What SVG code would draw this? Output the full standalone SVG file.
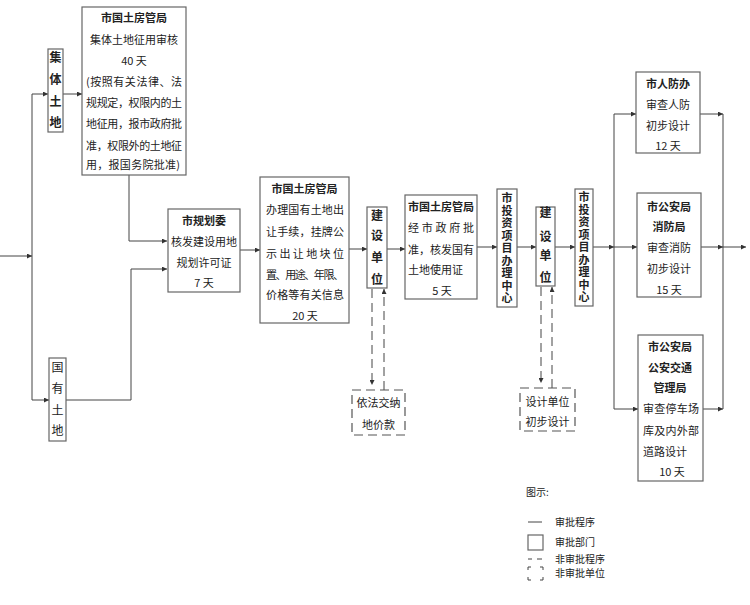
<svg xmlns="http://www.w3.org/2000/svg" width="750" height="605" viewBox="0 0 750 605">
<defs>
<marker id="a" viewBox="0 0 6 6" refX="6" refY="3" markerWidth="5" markerHeight="5" orient="auto"><path d="M0,0L6,3L0,6z" fill="#333"/></marker>
<style>
text{font-family:"Noto Sans CJK SC","Liberation Sans",sans-serif;font-size:11px;fill:#222}
.b{font-weight:bold}
.v{font-size:12px;text-anchor:middle}
.t{font-size:11px;text-anchor:middle;font-weight:bold;writing-mode:vertical-rl;letter-spacing:1.5px}
.m{text-anchor:middle}
.box{fill:#fff;stroke:#666;stroke-width:1.2}
.dbox{fill:#fff;stroke:#555;stroke-width:1.2;stroke-dasharray:9 5}
.ln{fill:none;stroke:#444;stroke-width:1}
.dl{fill:none;stroke:#444;stroke-width:1;stroke-dasharray:9 5}
.lg{font-size:10px}
</style>
</defs>
<rect width="750" height="605" fill="#fff"/>
<g id="connectors">
<path class="ln" d="M0,256H32" marker-end="url(#a)"/>
<path class="ln" d="M32,94V400"/>
<path class="ln" d="M32,94H48" marker-end="url(#a)"/>
<path class="ln" d="M32,400H49" marker-end="url(#a)"/>
<path class="ln" d="M63,94H82" marker-end="url(#a)"/>
<path class="ln" d="M129,175V241H167" marker-end="url(#a)"/>
<path class="ln" d="M66,400H131V269H167" marker-end="url(#a)"/>
<path class="ln" d="M240,250H260" marker-end="url(#a)"/>
<path class="ln" d="M349,249H367" marker-end="url(#a)"/>
<path class="dl" d="M372,289V385" marker-end="url(#a)"/>
<path class="dl" d="M384,390V289" marker-end="url(#a)"/>
<path class="ln" d="M387,249H405" marker-end="url(#a)"/>
<path class="ln" d="M477,247H497" marker-end="url(#a)"/>
<path class="ln" d="M517,247H536" marker-end="url(#a)"/>
<path class="dl" d="M541,287V383" marker-end="url(#a)"/>
<path class="dl" d="M552,388V287" marker-end="url(#a)"/>
<path class="ln" d="M555,247H575" marker-end="url(#a)"/>
<path class="ln" d="M593,247H614" marker-end="url(#a)"/>
<path class="ln" d="M614,114V409"/>
<path class="ln" d="M614,114H636" marker-end="url(#a)"/>
<path class="ln" d="M614,247H637" marker-end="url(#a)"/>
<path class="ln" d="M614,409H638" marker-end="url(#a)"/>
<path class="ln" d="M723,114V409"/>
<path class="ln" d="M700,114H723" marker-end="url(#a)"/>
<path class="ln" d="M701,247H723" marker-end="url(#a)"/>
<path class="ln" d="M703,409H723" marker-end="url(#a)"/>
<path class="ln" d="M723,247H746" marker-end="url(#a)"/>
</g>
<g id="n-jiti">
<rect class="box" x="48" y="49" width="15" height="83"/>
<text class="v b" x="55.5" y="62">集</text>
<text class="v b" x="55.5" y="84">体</text>
<text class="v b" x="55.5" y="106">土</text>
<text class="v b" x="55.5" y="127">地</text>
</g>
<g id="n-guoyou">
<rect class="box" x="49" y="358" width="17" height="83"/>
<text class="v" x="57.5" y="372">国</text>
<text class="v" x="57.5" y="393">有</text>
<text class="v" x="57.5" y="415">土</text>
<text class="v" x="57.5" y="435">地</text>
</g>
<g id="n-box1">
<rect class="box" x="82" y="7" width="104" height="168"/>
<text class="m b" x="134" y="22">市国土房管局</text>
<text class="m" x="134" y="44">集体土地征用审核</text>
<text class="m" x="134" y="65">40 天</text>
<text x="86" y="86" textLength="96" lengthAdjust="spacing">(按照有关法律、法</text>
<text x="86" y="107" textLength="96" lengthAdjust="spacing">规规定，权限内的土</text>
<text x="86" y="128" textLength="96" lengthAdjust="spacing">地征用，报市政府批</text>
<text x="86" y="150" textLength="96" lengthAdjust="spacing">准，权限外的土地征</text>
<text x="86" y="169" textLength="94" lengthAdjust="spacing">用，报国务院批准)</text>
</g>
<g id="n-guihua">
<rect class="box" x="168" y="209" width="72" height="83"/>
<text class="m b" x="204" y="225">市规划委</text>
<text class="m" x="204" y="246">核发建设用地</text>
<text class="m" x="204" y="267">规划许可证</text>
<text class="m" x="204" y="287">7 天</text>
</g>
<g id="n-box3">
<rect class="box" x="260" y="177" width="89" height="146"/>
<text class="m b" x="304.5" y="193">市国土房管局</text>
<text x="266" y="214" textLength="78" lengthAdjust="spacing">办理国有土地出</text>
<text x="266" y="236" textLength="78" lengthAdjust="spacing">让手续，挂牌公</text>
<text x="266" y="258" textLength="78" lengthAdjust="spacing">示出让地块位</text>
<text x="266" y="279" textLength="78" lengthAdjust="spacing">置、用途、年限、</text>
<text x="266" y="299" textLength="78" lengthAdjust="spacing">价格等有关信息</text>
<text class="m" x="305" y="320">20 天</text>
</g>
<g id="n-jianshe1">
<rect class="box" x="367" y="207" width="20" height="81"/>
<text class="v b" x="377" y="220">建</text>
<text class="v b" x="377" y="240">设</text>
<text class="v b" x="377" y="262">单</text>
<text class="v b" x="377" y="284">位</text>
</g>
<g id="n-dijia">
<rect class="dbox" x="352" y="390" width="53" height="45"/>
<text class="m" x="378.5" y="407">依法交纳</text>
<text class="m" x="378.5" y="429">地价款</text>
</g>
<g id="n-box4">
<rect class="box" x="405" y="195" width="72" height="104"/>
<text class="m b" x="441" y="211">市国土房管局</text>
<text x="408" y="232" textLength="66" lengthAdjust="spacing">经市政府批</text>
<text x="408" y="254" textLength="66" lengthAdjust="spacing">准，核发国有</text>
<text x="408" y="274">土地使用证</text>
<text class="m" x="442" y="295">5 天</text>
</g>
<g id="n-touzi1">
<rect class="box" x="497" y="189" width="20" height="118"/>
<text class="t" x="507" y="249">市投资项目办理中心</text>
</g>
<g id="n-jianshe2">
<rect class="box" x="536" y="207" width="19" height="79"/>
<text class="v b" x="545.5" y="217">建</text>
<text class="v b" x="545.5" y="241">设</text>
<text class="v b" x="545.5" y="260">单</text>
<text class="v b" x="545.5" y="282">位</text>
</g>
<g id="n-sheji">
<rect class="dbox" x="520" y="388" width="55" height="43"/>
<text class="m" x="547.5" y="406">设计单位</text>
<text class="m" x="547.5" y="426">初步设计</text>
</g>
<g id="n-touzi2">
<rect class="box" x="575" y="189" width="18" height="117"/>
<text class="t" x="584" y="248">市投资项目办理中心</text>
</g>
<g id="n-renfang">
<rect class="box" x="636" y="72" width="64" height="81"/>
<text class="m b" x="668" y="88">市人防办</text>
<text class="m" x="668" y="109">审查人防</text>
<text class="m" x="668" y="130">初步设计</text>
<text class="m" x="668" y="150">12 天</text>
</g>
<g id="n-xiaofang">
<rect class="box" x="637" y="193" width="64" height="104"/>
<text class="m b" x="669" y="211">市公安局</text>
<text class="m b" x="669" y="231">消防局</text>
<text class="m" x="669" y="252">审查消防</text>
<text class="m" x="669" y="273">初步设计</text>
<text class="m" x="669" y="294">15 天</text>
</g>
<g id="n-jiaotong">
<rect class="box" x="638" y="335" width="65" height="146"/>
<text class="m b" x="670" y="351">市公安局</text>
<text class="m b" x="670" y="372">公安交通</text>
<text class="m b" x="670" y="392">管理局</text>
<text x="643" y="413" textLength="56" lengthAdjust="spacing">审查停车场</text>
<text x="643" y="435" textLength="56" lengthAdjust="spacing">库及内外部</text>
<text x="643" y="456">道路设计</text>
<text class="m" x="672" y="476">10 天</text>
</g>
<g id="legend">
<text class="lg" x="526" y="496">图示:</text>
<path class="ln" d="M528,522H542"/>
<text class="lg" x="555" y="526">审批程序</text>
<rect class="box" x="528" y="535" width="15" height="15"/>
<text class="lg" x="555" y="546">审批部门</text>
<path class="ln" d="M528,559H532M537,559H542"/>
<text class="lg" x="555" y="563">非审批程序</text>
<path class="ln" d="M528,570V567H531M540,567H543V570M528,577V580H531M540,580H543V577"/>
<text class="lg" x="555" y="577">非审批单位</text>
</g>
</svg>
